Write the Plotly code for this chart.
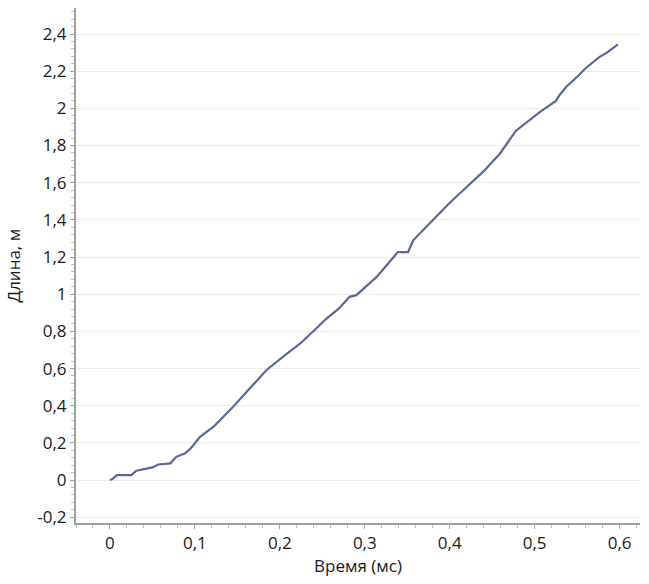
import plotly.graph_objects as go

time_ms = [0.000, 0.003, 0.008, 0.025, 0.031, 0.043, 0.050, 0.057, 0.071, 0.078,
           0.088, 0.095, 0.106, 0.122, 0.135, 0.145, 0.165, 0.184, 0.205, 0.224,
           0.235, 0.255, 0.270, 0.282, 0.290, 0.314, 0.339, 0.351, 0.357, 0.380,
           0.400, 0.420, 0.440, 0.459, 0.478, 0.506, 0.525, 0.529, 0.537, 0.550,
           0.561, 0.576, 0.585, 0.598]
length_m = [0.000, 0.005, 0.027, 0.027, 0.050, 0.063, 0.068, 0.084, 0.090, 0.125,
            0.143, 0.170, 0.233, 0.287, 0.345, 0.394, 0.495, 0.591, 0.668, 0.735,
            0.782, 0.869, 0.925, 0.986, 0.995, 1.093, 1.227, 1.227, 1.290, 1.398,
            1.492, 1.577, 1.662, 1.756, 1.880, 1.980, 2.040, 2.070, 2.115, 2.170,
            2.220, 2.276, 2.300, 2.344]

x_tickvals = [0, 0.1, 0.2, 0.3, 0.4, 0.5, 0.6]
x_ticktext = ["0", "0,1", "0,2", "0,3", "0,4", "0,5", "0,6"]
y_tickvals = [-0.2, 0, 0.2, 0.4, 0.6, 0.8, 1.0, 1.2, 1.4, 1.6, 1.8, 2.0, 2.2, 2.4]
y_ticktext = ["-0,2", "0", "0,2", "0,4", "0,6", "0,8", "1", "1,2", "1,4", "1,6",
              "1,8", "2", "2,2", "2,4"]

font_family = "Open Sans, Noto Sans, sans-serif"

fig = go.Figure()
fig.add_trace(go.Scatter(
    x=time_ms, y=length_m, mode="lines",
    line=dict(color="#5a6899", width=2.2),
    showlegend=False, hoverinfo="skip",
))

fig.update_layout(
    width=649, height=584,
    margin=dict(l=76, r=9, t=8, b=61),
    paper_bgcolor="white", plot_bgcolor="white",
    font=dict(family=font_family, size=17, color="#1a1a1a"),
    showlegend=False,
)

fig.update_xaxes(
    range=[-0.04, 0.624], automargin=False,
    tickmode="array", tickvals=x_tickvals, ticktext=x_ticktext,
    showgrid=False, zeroline=False,
    showline=True, linecolor="#a0a0a0", linewidth=2,
    ticks="outside", ticklen=4, tickcolor="#a0a0a0", tickwidth=1,
    minor=dict(dtick=0.02, ticks="outside", ticklen=3, tickcolor="#c0c0c0", showgrid=False),
    tickfont=dict(size=17),
    title=dict(text="Время (мс)", font=dict(size=17), standoff=6),
)

fig.update_yaxes(
    range=[-0.231, 2.54], automargin=False,
    tickmode="array", tickvals=y_tickvals, ticktext=y_ticktext,
    showgrid=True, gridcolor="#ececec", gridwidth=1,
    zeroline=False,
    showline=True, linecolor="#a0a0a0", linewidth=2,
    ticks="outside", ticklen=4, tickcolor="#a0a0a0", tickwidth=1,
    minor=dict(dtick=0.04, tick0=0, ticks="outside", ticklen=3, tickcolor="#c0c0c0", showgrid=False),
    tickfont=dict(size=17),
)

fig.add_annotation(
    text="Длина, м", textangle=-90, showarrow=False,
    xref="paper", yref="paper", x=0, y=0.5,
    xanchor="center", yanchor="middle", xshift=-63,
    font=dict(size=17),
)

# remove the browser's default 8px body margin so the figure fills the window
fig.write_html("out.html", config={"displayModeBar": False},
               post_script="document.body.style.margin='0';")
